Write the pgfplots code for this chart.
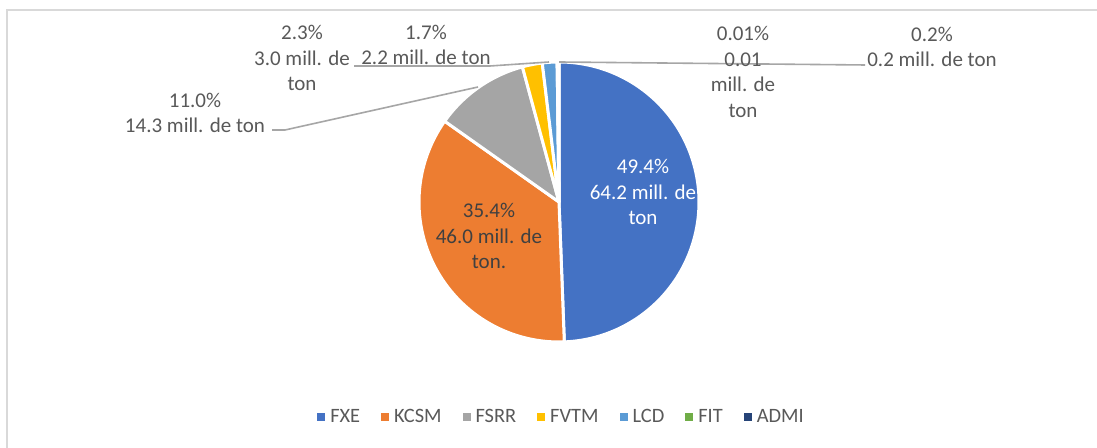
\documentclass[border=0pt]{standalone}
\usepackage{pgfplots}
\pgfplotsset{compat=1.18}
\usepackage{fontspec}
\setmainfont{Carlito}
\definecolor{cFXE}{HTML}{4472C4}
\definecolor{cKCSM}{HTML}{ED7D31}
\definecolor{cFSRR}{HTML}{A5A5A5}
\definecolor{cFVTM}{HTML}{FFC000}
\definecolor{cLCD}{HTML}{5B9BD5}
\definecolor{cFIT}{HTML}{70AD47}
\definecolor{cADMI}{HTML}{264478}
\definecolor{lbl}{HTML}{595959}
\definecolor{lbldark}{HTML}{404040}
\definecolor{lead}{HTML}{A6A6A6}
\definecolor{frame}{HTML}{D9D9D9}
% shares (percent)
\def\pFXE{49.4}\def\pKCSM{35.4}\def\pFSRR{11.0}\def\pFVTM{2.3}\def\pLCD{1.7}\def\pFIT{0.01}\def\pADMI{0.2}
\pgfmathsetmacro\tot{(\pFXE+\pKCSM+\pFSRR+\pFVTM+\pLCD+\pFIT+\pADMI)/100}
\pgfmathsetmacro\aA{90}
\pgfmathsetmacro\aB{\aA-3.6*\pFXE/\tot}
\pgfmathsetmacro\aC{\aB-3.6*\pKCSM/\tot}
\pgfmathsetmacro\aD{\aC-3.6*\pFSRR/\tot}
\pgfmathsetmacro\aE{\aD-3.6*\pFVTM/\tot}
\pgfmathsetmacro\aF{\aE-3.6*\pLCD/\tot}
\pgfmathsetmacro\aG{\aF-3.6*\pFIT/\tot}
\pgfmathsetmacro\aH{\aG-3.6*\pADMI/\tot}
\newcommand\lf{\fontsize{10.5}{12.8}\selectfont}
\begin{document}
\begin{tikzpicture}
\begin{axis}[scale only axis, width=548.5pt, height=224pt,
  xmin=0, xmax=1097, ymin=0, ymax=448, hide axis, clip=true,
  legend columns=-1,
  legend style={at={(0.5128,0.069)}, anchor=center, draw=none, fill=none,
    font=\fontsize{10.2}{12}\selectfont, text=lbl, inner sep=0pt,
    /tikz/every even column/.append style={column sep=8.5pt},
    /tikz/every odd column/.append style={column sep=0.5pt}},
  legend image code/.code={\fill[#1] (0pt,-2pt) rectangle (4pt,2pt);}]
\fill[white] (axis cs:0,0) rectangle (axis cs:1097,448);
\addplot[frame, line width=1pt, forget plot] coordinates {(7,0) (7,438) (1097,438)};
% wedges
\addplot[fill=cFXE, draw=white, line width=1.5pt, line join=round, domain=\aB:\aA, samples=120, forget plot] ({559+140*cos(x)},{246+140*sin(x)}) -- (axis cs:559,246) -- cycle;
\addplot[fill=cKCSM, draw=white, line width=1.5pt, line join=round, domain=\aC:\aB, samples=90, forget plot] ({559+140*cos(x)},{246+140*sin(x)}) -- (axis cs:559,246) -- cycle;
\addplot[fill=cFSRR, draw=white, line width=1.5pt, line join=round, domain=\aD:\aC, samples=40, forget plot] ({559+140*cos(x)},{246+140*sin(x)}) -- (axis cs:559,246) -- cycle;
\addplot[fill=cFVTM, draw=white, line width=1.5pt, line join=round, domain=\aE:\aD, samples=10, forget plot] ({559+140*cos(x)},{246+140*sin(x)}) -- (axis cs:559,246) -- cycle;
\addplot[fill=cLCD, draw=white, line width=1.5pt, line join=round, domain=\aF:\aE, samples=10, forget plot] ({559+140*cos(x)},{246+140*sin(x)}) -- (axis cs:559,246) -- cycle;
\addplot[fill=cFIT, draw=white, line width=1.5pt, line join=round, domain=\aG:\aF, samples=2, forget plot] ({559+140*cos(x)},{246+140*sin(x)}) -- (axis cs:559,246) -- cycle;
\addplot[fill=cADMI, draw=white, line width=1.5pt, line join=round, domain=\aH:\aG, samples=3, forget plot] ({559+140*cos(x)},{246+140*sin(x)}) -- (axis cs:559,246) -- cycle;
% leader lines
\addplot[lead, line width=0.8pt, forget plot] coordinates {(272,318) (285,318) (478,361)};
\addplot[lead, line width=0.8pt, forget plot] coordinates {(354,382) (490,382) (549,386)};
\addplot[lead, line width=0.8pt, forget plot] coordinates {(559,386) (865,383)};
% labels
\node[align=center, text=white, font=\lf] at (axis cs:643,256) {49.4\%\\64.2 mill. de\\ton};
\node[align=center, text=lbldark, font=\lf] at (axis cs:489,212) {35.4\%\\46.0 mill. de\\ton.};
\node[align=center, text=lbl, font=\lf] at (axis cs:195,335) {11.0\%\\14.3 mill. de ton};
\node[align=center, text=lbl, font=\lf] at (axis cs:302,390) {2.3\%\\3.0 mill. de\\ton};
\node[align=center, text=lbl, font=\lf] at (axis cs:426,403) {1.7\%\\2.2 mill. de ton};
\node[align=center, text=lbl, font=\lf] at (axis cs:743,376) {0.01\%\\0.01\\mill. de\\ton};
\node[align=center, text=lbl, font=\lf] at (axis cs:932,401) {0.2\%\\0.2 mill. de ton};
% legend
\addlegendimage{fill=cFXE, draw=none}\addlegendentry{FXE}
\addlegendimage{fill=cKCSM, draw=none}\addlegendentry{KCSM}
\addlegendimage{fill=cFSRR, draw=none}\addlegendentry{FSRR}
\addlegendimage{fill=cFVTM, draw=none}\addlegendentry{FVTM}
\addlegendimage{fill=cLCD, draw=none}\addlegendentry{LCD}
\addlegendimage{fill=cFIT, draw=none}\addlegendentry{FIT}
\addlegendimage{fill=cADMI, draw=none}\addlegendentry{ADMI}
\end{axis}
\end{tikzpicture}
\end{document}
